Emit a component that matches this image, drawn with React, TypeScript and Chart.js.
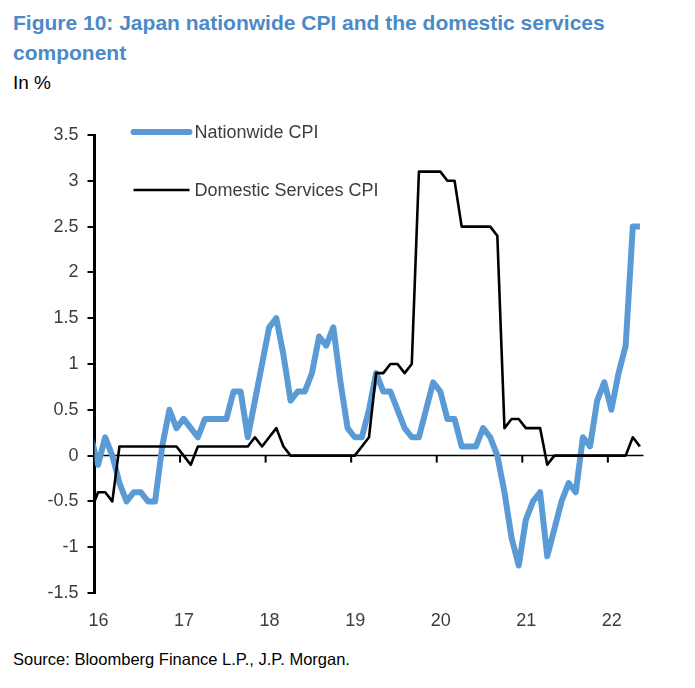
import React, { useEffect, useRef } from "react";
import { Chart, registerables } from "chart.js";

Chart.register(...registerables);

// Year tick labels (January of each year)
const yearLabels = ["16", "17", "18", "19", "20", "21", "22"];
const yTickValues = [-1.5, -1, -0.5, 0, 0.5, 1, 1.5, 2, 2.5, 3, 3.5];

// Monthly observations, Dec 2015 .. May 2022 (y/y %)
const firstMonthOffset = -1; // Dec 2015 relative to Jan 2016
const nationwideCPI = [
  0.2,
  -0.1, 0.2, 0.0, -0.3, -0.5, -0.4, -0.4, -0.5, -0.5, 0.1, 0.5, 0.3,
  0.4, 0.3, 0.2, 0.4, 0.4, 0.4, 0.4, 0.7, 0.7, 0.2, 0.6, 1.0,
  1.4, 1.5, 1.1, 0.6, 0.7, 0.7, 0.9, 1.3, 1.2, 1.4, 0.8, 0.3,
  0.2, 0.2, 0.5, 0.9, 0.7, 0.7, 0.5, 0.3, 0.2, 0.2, 0.5, 0.8,
  0.7, 0.4, 0.4, 0.1, 0.1, 0.1, 0.3, 0.2, 0.0, -0.4, -0.9, -1.2,
  -0.7, -0.5, -0.4, -1.1, -0.8, -0.5, -0.3, -0.4, 0.2, 0.1, 0.6, 0.8,
  0.5, 0.9, 1.2, 2.5, 2.5,
];
const domesticServicesCPI = [
  -0.6,
  -0.4, -0.4, -0.5, 0.1, 0.1, 0.1, 0.1, 0.1, 0.1, 0.1, 0.1, 0.1,
  0.0, -0.1, 0.1, 0.1, 0.1, 0.1, 0.1, 0.1, 0.1, 0.1, 0.2, 0.1,
  0.2, 0.3, 0.1, 0.0, 0.0, 0.0, 0.0, 0.0, 0.0, 0.0, 0.0, 0.0,
  0.0, 0.1, 0.2, 0.9, 0.9, 1.0, 1.0, 0.9, 1.0, 3.1, 3.1, 3.1,
  3.1, 3.0, 3.0, 2.5, 2.5, 2.5, 2.5, 2.5, 2.4, 0.3, 0.4, 0.4,
  0.3, 0.3, 0.3, -0.1, 0.0, 0.0, 0.0, 0.0, 0.0, 0.0, 0.0, 0.0,
  0.0, 0.0, 0.0, 0.2, 0.1,
];
const seriesNames = ["Nationwide CPI", "Domestic Services CPI"];

const BLUE = "#5b9bd5";
const TEXT = "#3d3d3d";
const FONT = "'Liberation Sans', Arial, sans-serif";

// month position: mid-month, in months since 1 Jan 2016
const toPoints = (arr: number[]) =>
  arr.map((v, i) => ({ x: firstMonthOffset + i + 0.5, y: v }));

const overlayPlugin = {
  id: "overlay",
  beforeDatasetsDraw(chart: any) {
    const { ctx, chartArea, scales } = chart;
    const y0 = scales.y.getPixelForValue(0);
    ctx.save();
    ctx.strokeStyle = "#000";
    ctx.lineWidth = 1.5;
    ctx.beginPath();
    ctx.moveTo(chartArea.left, y0);
    ctx.lineTo(chartArea.right, y0);
    ctx.stroke();
    ctx.lineWidth = 2;
    scales.x.ticks.forEach((t: any) => {
      const px = scales.x.getPixelForValue(t.value);
      if (px <= chartArea.left + 2) return;
      ctx.beginPath();
      ctx.moveTo(px, y0);
      ctx.lineTo(px, y0 + 7);
      ctx.stroke();
    });
    ctx.restore();
  },
  afterDraw(chart: any) {
    const { ctx, chartArea } = chart;
    const lx = chartArea.left + 39;
    const items = [
      { y: chartArea.top - 3, color: BLUE, width: 6, cap: "round" },
      { y: chartArea.top + 55, color: "#000", width: 2.6, cap: "butt" },
    ];
    ctx.save();
    items.forEach((it, i) => {
      ctx.strokeStyle = it.color;
      ctx.lineWidth = it.width;
      ctx.lineCap = it.cap as CanvasLineCap;
      ctx.beginPath();
      ctx.moveTo(lx, it.y);
      ctx.lineTo(lx + 56, it.y);
      ctx.stroke();
      ctx.fillStyle = TEXT;
      ctx.font = `18px ${FONT}`;
      ctx.textBaseline = "middle";
      ctx.textAlign = "left";
      ctx.fillText(seriesNames[i], lx + 61, it.y + 1);
    });
    ctx.restore();
  },
};

export default function App() {
  const canvasRef = useRef<HTMLCanvasElement | null>(null);

  useEffect(() => {
    if (!canvasRef.current) return;
    const chart = new Chart(canvasRef.current, {
      type: "line",
      data: {
        datasets: [
          {
            label: seriesNames[1],
            data: toPoints(domesticServicesCPI),
            borderColor: "#000",
            borderWidth: 2.6,
            pointRadius: 0,
            tension: 0,
            borderJoinStyle: "round",
            clip: 0,
            order: 0,
          },
          {
            label: seriesNames[0],
            data: toPoints(nationwideCPI),
            borderColor: BLUE,
            borderWidth: 6,
            pointRadius: 0,
            tension: 0,
            borderJoinStyle: "round",
            clip: 0,
            order: 1,
          },
        ],
      },
      options: {
        animation: false,
        responsive: false,
        maintainAspectRatio: false,
        layout: { padding: { left: 0, right: 51.5, top: 35, bottom: 0 } },
        plugins: {
          legend: { display: false },
          tooltip: { enabled: false },
          title: { display: false },
        },
        scales: {
          x: {
            type: "linear",
            min: 0,
            max: 77,
            grid: { display: false, drawTicks: false },
            border: { display: false },
            afterBuildTicks: (s: any) => {
              s.ticks = yearLabels.map((_, i) => ({ value: i * 12 }));
            },
            afterFit: (s: any) => {
              s.height = 52;
            },
            ticks: {
              autoSkip: false,
              maxRotation: 0,
              padding: 17,
              labelOffset: 4,
              color: TEXT,
              font: { family: FONT, size: 18 },
              callback: (v: any) => yearLabels[Math.round(Number(v) / 12)] ?? "",
            },
          },
          y: {
            type: "linear",
            min: -1.5,
            max: 3.5,
            afterBuildTicks: (s: any) => {
              s.ticks = yTickValues.map((v) => ({ value: v }));
            },
            afterFit: (s: any) => {
              s.width = 94.5;
            },
            grid: {
              drawOnChartArea: false,
              drawTicks: true,
              tickLength: 7,
              color: "#000",
              lineWidth: 2,
            },
            border: { display: true, color: "#000", width: 3 },
            ticks: {
              padding: 9,
              color: TEXT,
              font: { family: FONT, size: 18 },
              callback: (v: any) => String(v),
            },
          },
        },
      },
      plugins: [overlayPlugin],
    });
    return () => chart.destroy();
  }, []);

  return (
    <div
      style={{
        position: "fixed",
        left: 0,
        top: 0,
        width: 695,
        height: 688,
        background: "#fff",
        overflow: "hidden",
        fontFamily: FONT,
      }}
    >
      <div
        style={{
          position: "absolute",
          left: 13,
          top: 8,
          fontSize: 21,
          lineHeight: "30px",
          fontWeight: "bold",
          color: "#4a8ac9",
          whiteSpace: "nowrap",
        }}
      >
        Figure 10: Japan nationwide CPI and the domestic services
        <br />
        component
      </div>
      <div
        style={{
          position: "absolute",
          left: 13,
          top: 72,
          fontSize: 19,
          lineHeight: "22px",
          color: "#000",
        }}
      >
        In %
      </div>
      <canvas
        ref={canvasRef}
        width={695}
        height={545}
        style={{ position: "absolute", left: 0, top: 100, width: 695, height: 545 }}
      />
      <div
        style={{
          position: "absolute",
          left: 13,
          top: 649,
          fontSize: 16.5,
          lineHeight: "20px",
          color: "#000",
          whiteSpace: "nowrap",
        }}
      >
        Source: Bloomberg Finance L.P., J.P. Morgan.
      </div>
    </div>
  );
}
